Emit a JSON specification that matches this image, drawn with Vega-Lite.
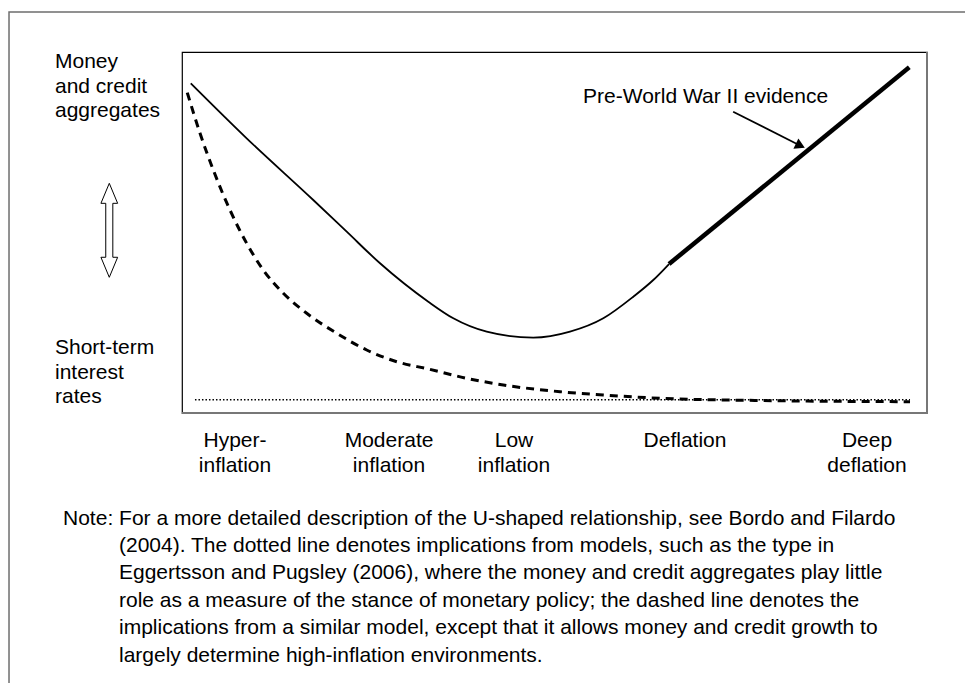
{
  "$schema": "https://vega.github.io/schema/vega-lite/v6.json",
  "autosize": {"type": "none"},
  "width": 745,
  "height": 361,
  "padding": {"left": 182, "top": 52, "right": 38, "bottom": 270},
  "background": "white",
  "config": {
    "view": {"stroke": "#000", "strokeWidth": 1.2},
    "font": "Liberation Sans",
    "text": {"font": "Liberation Sans", "fontSize": 21, "color": "#000"}
  },
  "datasets": {
    "border": [{"x": -23.22, "x2": 110, "y": 111.08, "y2": -80}],
    "solid": [
      {"x": 1.17, "y": 91.33},
      {"x": 8.68, "y": 76.09},
      {"x": 17.62, "y": 59.0},
      {"x": 22.11, "y": 50.22},
      {"x": 26.58, "y": 41.47},
      {"x": 33.06, "y": 30.83},
      {"x": 36.42, "y": 26.23},
      {"x": 40.9, "y": 22.52},
      {"x": 47.15, "y": 20.86},
      {"x": 52.08, "y": 22.52},
      {"x": 56.55, "y": 26.23},
      {"x": 60.58, "y": 32.22},
      {"x": 63.26, "y": 36.84},
      {"x": 65.37, "y": 41.27}
    ],
    "thick": [
      {"x": 65.37, "y": 41.27},
      {"x": 97.62, "y": 95.76}
    ],
    "dashed": [
      {"x": 0.71, "y": 88.73},
      {"x": 2.42, "y": 77.48},
      {"x": 4.2, "y": 67.31},
      {"x": 6.44, "y": 56.23},
      {"x": 8.68, "y": 47.01},
      {"x": 10.91, "y": 39.61},
      {"x": 13.6, "y": 33.16},
      {"x": 16.74, "y": 27.62},
      {"x": 20.77, "y": 22.08},
      {"x": 24.79, "y": 17.45},
      {"x": 28.82, "y": 14.21},
      {"x": 33.06, "y": 12.19},
      {"x": 38.21, "y": 9.61},
      {"x": 43.13, "y": 7.76},
      {"x": 50.74, "y": 5.9},
      {"x": 56.55, "y": 4.99},
      {"x": 64.16, "y": 4.07},
      {"x": 77.58, "y": 3.46},
      {"x": 97.72, "y": 3.13}
    ],
    "dotted": [
      {"x": 1.74, "y": 3.68},
      {"x": 97.72, "y": 3.68}
    ],
    "frameEdges": [
      {"x": 100, "x2": 100, "y": 100, "y2": -0.3},
      {"x": 0, "x2": 100.1, "y": 0, "y2": 0}
    ],
    "arrow": [{"x": 73.98, "y": 83.46, "x2": 82.95, "y2": 74.1}],
    "arrowHead": [{"x": 83.0, "y": 74.05}],
    "doubleArrow": [{"x": -9.76, "y": 50.61}],
    "leftLabels": [
      {"t": "Money\nand credit\naggregates", "x": -17.05, "y": 95.48},
      {"t": "Short-term\ninterest\nrates", "x": -17.05, "y": 16.34}
    ],
    "annotation": [{"t": "Pre-World War II evidence", "x": 53.83, "y": 85.79}],
    "categories": [
      {"t": "Hyper-\ninflation", "x": 7.11, "y": -9.34},
      {"t": "Moderate\ninflation", "x": 27.79, "y": -9.34},
      {"t": "Low\ninflation", "x": 44.56, "y": -9.34},
      {"t": "Deflation", "x": 67.52, "y": -9.34},
      {"t": "Deep\ndeflation", "x": 91.95, "y": -9.34}
    ],
    "noteFirst": [{"t": "Note: For a more detailed description of the U-shaped relationship, see Bordo and Filardo", "x": -15.97, "y": -30.89}],
    "noteRest": [{"t": "(2004). The dotted line denotes implications from models, such as the type in\nEggertsson and Pugsley (2006), where the money and credit aggregates play little\nrole as a measure of the stance of monetary policy; the dashed line denotes the\nimplications from a similar model, except that it allows money and credit growth to\nlargely determine high-inflation environments.", "x": -8.46, "y": -38.5}]
  },
  "encoding": {
    "x": {"field": "x", "type": "quantitative", "scale": {"domain": [0, 100], "nice": false, "zero": false}, "axis": null},
    "y": {"field": "y", "type": "quantitative", "scale": {"domain": [0, 100], "nice": false, "zero": false}, "axis": null}
  },
  "layer": [
    {
      "data": {"name": "border"},
      "mark": {"type": "rect", "fillOpacity": 0, "stroke": "#6e6e6e", "strokeWidth": 1.5},
      "encoding": {"x2": {"field": "x2"}, "y2": {"field": "y2"}}
    },
    {
      "data": {"name": "frameEdges"},
      "mark": {"type": "rule", "stroke": "#777", "strokeWidth": 2},
      "encoding": {"x2": {"field": "x2"}, "y2": {"field": "y2"}}
    },
    {
      "data": {"name": "dotted"},
      "mark": {"type": "line", "stroke": "#000", "strokeWidth": 1.4, "strokeDash": [1.5, 2]}
    },
    {
      "data": {"name": "dashed"},
      "mark": {"type": "line", "stroke": "#000", "strokeWidth": 3, "strokeDash": [8, 6], "interpolate": "monotone"}
    },
    {
      "data": {"name": "solid"},
      "mark": {"type": "line", "stroke": "#000", "strokeWidth": 1.8, "interpolate": "monotone"}
    },
    {
      "data": {"name": "thick"},
      "mark": {"type": "line", "stroke": "#000", "strokeWidth": 4.5, "strokeCap": "butt"}
    },
    {
      "data": {"name": "arrow"},
      "mark": {"type": "rule", "stroke": "#000", "strokeWidth": 1.8},
      "encoding": {"x2": {"field": "x2"}, "y2": {"field": "y2"}}
    },
    {
      "data": {"name": "arrowHead"},
      "mark": {"type": "point", "shape": "triangle-right", "filled": true, "color": "#000", "size": 130, "angle": 25.7, "opacity": 1}
    },
    {
      "data": {"name": "doubleArrow"},
      "mark": {"type": "point", "shape": "M0,-1L0.178,-0.574L0.075,-0.574L0.075,0.574L0.178,0.574L0,1L-0.178,0.574L-0.075,0.574L-0.075,-0.574L-0.178,-0.574Z", "size": 8836, "filled": true, "fill": "white", "stroke": "#000", "strokeWidth": 1, "opacity": 1}
    },
    {
      "data": {"name": "leftLabels"},
      "mark": {"type": "text", "align": "left", "baseline": "alphabetic", "lineBreak": "\n", "lineHeight": 24.5},
      "encoding": {"text": {"field": "t"}}
    },
    {
      "data": {"name": "annotation"},
      "mark": {"type": "text", "align": "left", "baseline": "alphabetic"},
      "encoding": {"text": {"field": "t"}}
    },
    {
      "data": {"name": "categories"},
      "mark": {"type": "text", "align": "center", "baseline": "alphabetic", "lineBreak": "\n", "lineHeight": 25},
      "encoding": {"text": {"field": "t"}}
    },
    {
      "data": {"name": "noteFirst"},
      "mark": {"type": "text", "align": "left", "baseline": "alphabetic"},
      "encoding": {"text": {"field": "t"}}
    },
    {
      "data": {"name": "noteRest"},
      "mark": {"type": "text", "align": "left", "baseline": "alphabetic", "lineBreak": "\n", "lineHeight": 27.5},
      "encoding": {"text": {"field": "t"}}
    }
  ]
}
